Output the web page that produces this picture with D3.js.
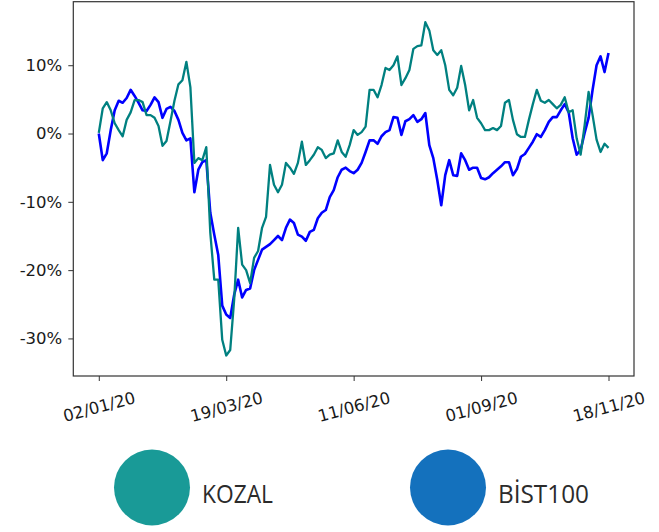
<!DOCTYPE html>
<html>
<head>
<meta charset="utf-8">
<script src="https://cdn.jsdelivr.net/npm/d3@7"></script>
<style>
  body { margin: 0; background: #fff; }
  svg { display: block; }
</style>
</head>
<body>
<div id="chart"></div>
<script>
// values in %, one point per ~2 trading days
const kozal = [0.1, 3.7, 4.6, 3.4, 1.5, 0.5, -0.4, 2.0, 3.1, 4.9,
  4.9, 4.6, 2.7, 2.7, 2.3, 1.1, -1.8, -1.1, 1.8, 4.8,
  7.2, 7.8, 10.5, 6.8, -4.3, -3.6, -3.9, -2.0, -14.5, -21.4,
  -21.4, -30.2, -32.5, -31.7, -24.3, -13.8, -19.2, -20.0, -21.9, -18.2,
  -17.2, -13.8, -12.2, -4.6, -7.5, -8.6, -7.5, -4.3, -5.0, -5.9,
  -4.3, -1.2, -4.6, -3.9, -3.1, -2.0, -2.4, -3.6, -3.1, -2.9,
  -1.0, -2.7, -3.4, -1.7, 0.5, -0.2, 0.2, 1.0, 6.4, 6.4,
  5.3, 7.1, 9.6, 9.3, 10.0, 11.3, 7.1, 8.1, 9.3, 12.4,
  12.8, 12.9, 16.3, 15.1, 12.2, 11.5, 12.2, 10.0, 6.4, 5.6,
  6.7, 9.9, 7.1, 3.4, 4.9, 2.3, 1.5, 0.5, 0.5, 0.8,
  0.5, 1.1, 4.5, 4.9, 2.0, -0.1, -0.5, -0.5, 2.0, 4.3,
  6.4, 4.8, 4.5, 4.9, 4.3, 3.7, 4.2, 5.3, 3.1, 3.4,
  -0.7, -3.1, 1.2, 6.1, 2.7, -0.9, -2.7, -1.5, -2.1];

const bist100 = [0.0, -3.9, -2.9, 0.5, 3.4, 4.8, 4.5, 5.2, 6.4, 5.5,
  4.5, 3.4, 3.3, 4.2, 5.3, 4.6, 2.3, 3.6, 3.9, 3.3,
  2.0, 0.1, -1.0, -0.7, -8.6, -5.3, -4.2, -3.9, -11.6, -14.8,
  -17.8, -25.2, -26.5, -27.0, -23.6, -21.4, -24.0, -22.9, -22.7, -20.0,
  -18.5, -17.0, -16.6, -16.2, -15.6, -15.0, -15.6, -13.8, -12.6, -13.1,
  -14.8, -15.1, -15.7, -14.4, -14.1, -12.4, -11.6, -11.2, -9.3, -8.3,
  -6.4, -5.3, -5.0, -5.5, -5.8, -5.3, -4.3, -2.7, -1.0, -1.0,
  -1.5, -0.4, 0.2, 0.5, 2.4, 2.3, -0.2, 1.8, 2.1, 2.7,
  1.7, 2.1, 3.0, -1.7, -3.6, -6.8, -10.5, -6.1, -3.9, -6.1,
  -6.2, -2.9, -3.9, -5.3, -5.0, -5.0, -6.5, -6.7, -6.4, -5.8,
  -5.3, -4.8, -4.2, -4.2, -6.1, -5.2, -3.4, -3.0, -2.1, -1.2,
  -0.1, -0.5, 0.5, 1.7, 2.4, 2.4, 3.4, 4.3, 3.1, -0.7,
  -3.1, -2.4, 0.1, 2.3, 6.4, 10.0, 11.3, 9.0, 11.8];

const tickIndex = [0, 32, 64, 96, 128];
const tickLabels = ["02/01/20", "19/03/20", "11/06/20", "01/09/20", "18/11/20"];
const yTicks = [-30, -20, -10, 0, 10];
const legendNames = ["KOZAL", "BİST100"];
const legendColors = ["#199a97", "#1471bd"];

const w = 659, h = 532;
const pLeft = 73.3, pRight = 634, pTop = 1.7, pBottom = 376;

const svg = d3.select("#chart").append("svg")
  .attr("width", w)
  .attr("height", h);

const n = kozal.length - 1;
const xScale = d3.scaleLinear()
  .domain([-n * 0.05, n * 1.05])
  .range([pLeft, pRight]);
const yScale = d3.scaleLinear()
  .domain([-35.5, 19.3])
  .range([pBottom, pTop]);

// axes
const xAxis = d3.axisBottom(xScale)
  .tickValues(tickIndex)
  .tickFormat((d, i) => tickLabels[i])
  .tickSize(5)
  .tickSizeOuter(0);
const yAxis = d3.axisLeft(yScale)
  .tickValues(yTicks)
  .tickFormat(d => d + "%")
  .tickSize(5)
  .tickSizeOuter(0);

const gx = svg.append("g")
  .attr("transform", `translate(0, ${pBottom})`)
  .call(xAxis);
gx.select(".domain").remove();
gx.selectAll("line").attr("stroke", "#333");
gx.selectAll("text")
  .attr("fill", "#1a1a1a")
  .style("font-family", "DejaVu Sans")
  .style("font-size", "16.5px")
  .attr("text-anchor", "middle")
  .attr("dominant-baseline", "central")
  .attr("y", 0)
  .attr("dy", 0)
  .attr("transform", "translate(0, 31) rotate(-15)");

const gy = svg.append("g")
  .attr("transform", `translate(${pLeft}, 0)`)
  .call(yAxis);
gy.select(".domain").remove();
gy.selectAll("line").attr("stroke", "#333");
gy.selectAll("text")
  .attr("fill", "#1a1a1a")
  .attr("x", -11)
  .style("font-family", "DejaVu Sans")
  .style("font-size", "16.5px");

// lines
const line = d3.line()
  .x((d, i) => xScale(i))
  .y(d => yScale(d));

svg.append("path")
  .datum(bist100)
  .attr("fill", "none")
  .attr("stroke", "#0000ff")
  .attr("stroke-width", 2.6)
  .attr("stroke-linejoin", "round")
  .attr("d", line);

svg.append("path")
  .datum(kozal)
  .attr("fill", "none")
  .attr("stroke", "#008080")
  .attr("stroke-width", 2.3)
  .attr("stroke-linejoin", "round")
  .attr("d", line);

// frame
svg.append("rect")
  .attr("x", pLeft)
  .attr("y", pTop)
  .attr("width", pRight - pLeft)
  .attr("height", pBottom - pTop)
  .attr("fill", "none")
  .attr("stroke", "#333")
  .attr("stroke-width", 1.2);

// legend
const legend = svg.append("g").attr("id", "legend");
const lx = [152, 448];
const lw = [71, 91];
legendNames.forEach((name, i) => {
  legend.append("circle")
    .attr("cx", lx[i])
    .attr("cy", 487.5)
    .attr("r", 38)
    .attr("fill", legendColors[i]);
  legend.append("text")
    .attr("x", lx[i] + 50)
    .attr("y", 503)
    .attr("fill", "#2b2b2b")
    .attr("textLength", lw[i])
    .attr("lengthAdjust", "spacingAndGlyphs")
    .style("font-family", "Open Sans")
    .style("font-size", "26px")
    .text(name);
});
</script>
</body>
</html>
